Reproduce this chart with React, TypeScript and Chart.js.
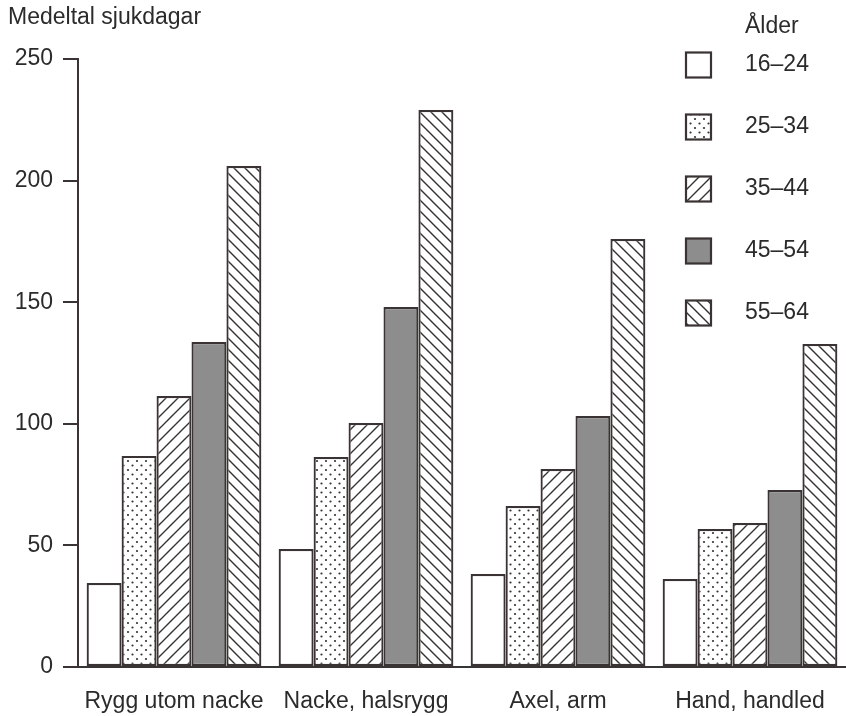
import { useEffect, useRef } from 'react';
import { Chart, registerables } from 'chart.js';
Chart.register(...registerables);

const categories = ['Rygg utom nacke', 'Nacke, halsrygg', 'Axel, arm', 'Hand, handled'];
const ageGroups = ['16–24', '25–34', '35–44', '45–54', '55–64'];
const age16_24 = [34.5, 48.5, 38.2, 36.2];
const age25_34 = [86.8, 86.3, 66.2, 56.7];
const age35_44 = [111.4, 100.3, 81.4, 59.2];
const age45_54 = [133.6, 148, 103.2, 72.8];
const age55_64 = [206, 229, 176, 132.8];
const yMin = 0;
const yMax = 250;
const yStep = 50;
const yAxisTitle = 'Medeltal sjukdagar';
const legendTitle = 'Ålder';

const INK = '#3a3333';
const TEXT = '#2b2b2b';
const FONT = '"Liberation Sans", Arial, sans-serif';
const FS = 23;

function makeTile(size: number, draw: (c: CanvasRenderingContext2D, s: number) => void): CanvasPattern | string {
  const cv = document.createElement('canvas');
  cv.width = size;
  cv.height = size;
  const c = cv.getContext('2d');
  if (!c) return '#fff';
  c.fillStyle = '#fff';
  c.fillRect(0, 0, size, size);
  draw(c, size);
  const p = c.createPattern(cv, 'repeat');
  return p || '#fff';
}

function makePatterns() {
  const dots = makeTile(9, (c) => {
    c.fillStyle = '#333';
    c.beginPath(); c.arc(2, 2, 1.1, 0, Math.PI * 2); c.fill();
    c.beginPath(); c.arc(6.5, 6.5, 1.1, 0, Math.PI * 2); c.fill();
  });
  const fwd = makeTile(12, (c, s) => {
    c.strokeStyle = '#333'; c.lineWidth = 1.4;
    c.beginPath();
    c.moveTo(-2, s + 2); c.lineTo(s + 2, -2);
    c.moveTo(-2, 2); c.lineTo(2, -2);
    c.moveTo(s - 2, s + 2); c.lineTo(s + 2, s - 2);
    c.stroke();
  });
  const gray = '#8d8d8d';
  const back = makeTile(11, (c, s) => {
    c.strokeStyle = '#333'; c.lineWidth = 1.4;
    c.beginPath();
    c.moveTo(-2, -2); c.lineTo(s + 2, s + 2);
    c.moveTo(s - 2, -2); c.lineTo(s + 2, 2);
    c.moveTo(-2, s - 2); c.lineTo(2, s + 2);
    c.stroke();
  });
  return ['#ffffff', dots, fwd, gray, back];
}

export default function App() {
  const ref = useRef<HTMLCanvasElement | null>(null);
  useEffect(() => {
    document.body.style.margin = '0';
    const canvas = ref.current;
    if (!canvas) return;
    const fills = makePatterns();
    const series = [age16_24, age25_34, age35_44, age45_54, age55_64];

    const extraText = {
      id: 'extraText',
      afterDraw(chart: any) {
        const ctx = chart.ctx as CanvasRenderingContext2D;
        ctx.save();
        ctx.fillStyle = TEXT;
        ctx.font = `${FS}px ${FONT}`;
        ctx.textBaseline = 'middle';
        ctx.textAlign = 'left';
        ctx.fillText(yAxisTitle, 8, 18);
        ctx.fillText(legendTitle, 745, 27);
        chart.data.datasets.forEach((ds: any, i: number) => {
          const cy = 65 + i * 62;
          const bx = 686, by = cy - 12.5, bs = 25;
          ctx.fillStyle = ds.backgroundColor;
          ctx.fillRect(bx, by, bs, bs);
          ctx.strokeStyle = INK;
          ctx.lineWidth = 2.2;
          ctx.strokeRect(bx, by, bs, bs);
          ctx.fillStyle = TEXT;
          ctx.fillText(ds.label, 745, cy);
        });
        ctx.restore();
      },
    };

    const chart = new Chart(canvas, {
      type: 'bar',
      data: {
        labels: categories,
        datasets: ageGroups.map((g, i) => ({
          label: g,
          data: series[i],
          backgroundColor: fills[i] as any,
          borderColor: INK,
          borderWidth: 2.2,
          borderSkipped: false,
          categoryPercentage: 0.91,
          barPercentage: 1,
        })),
      },
      options: {
        responsive: false,
        animation: false,
        layout: { padding: { top: 59, left: 0, right: 0, bottom: 0 } },
        plugins: { legend: { display: false }, tooltip: { enabled: false }, title: { display: false } },
        scales: {
          x: {
            grid: { display: false },
            border: { display: true, color: INK, width: 2 },
            ticks: { color: TEXT, font: { family: FONT, size: FS }, padding: 13, maxRotation: 0 },
            afterFit: (s: any) => { s.height = 49; },
          },
          y: {
            min: yMin,
            max: yMax,
            ticks: { stepSize: yStep, color: TEXT, font: { family: FONT, size: FS }, padding: 10 },
            grid: { display: true, drawOnChartArea: false, drawTicks: true, tickLength: 15, color: INK, lineWidth: 2 },
            border: { display: true, color: INK, width: 2 },
            afterFit: (s: any) => { s.width = 78; },
          },
        },
      },
      plugins: [extraText],
    });
    return () => chart.destroy();
  }, []);
  return (
    <div style={{ width: 846, height: 716, position: 'relative', background: '#fff' }}>
      <canvas ref={ref} width={846} height={716} style={{ display: 'block' }} />
    </div>
  );
}
